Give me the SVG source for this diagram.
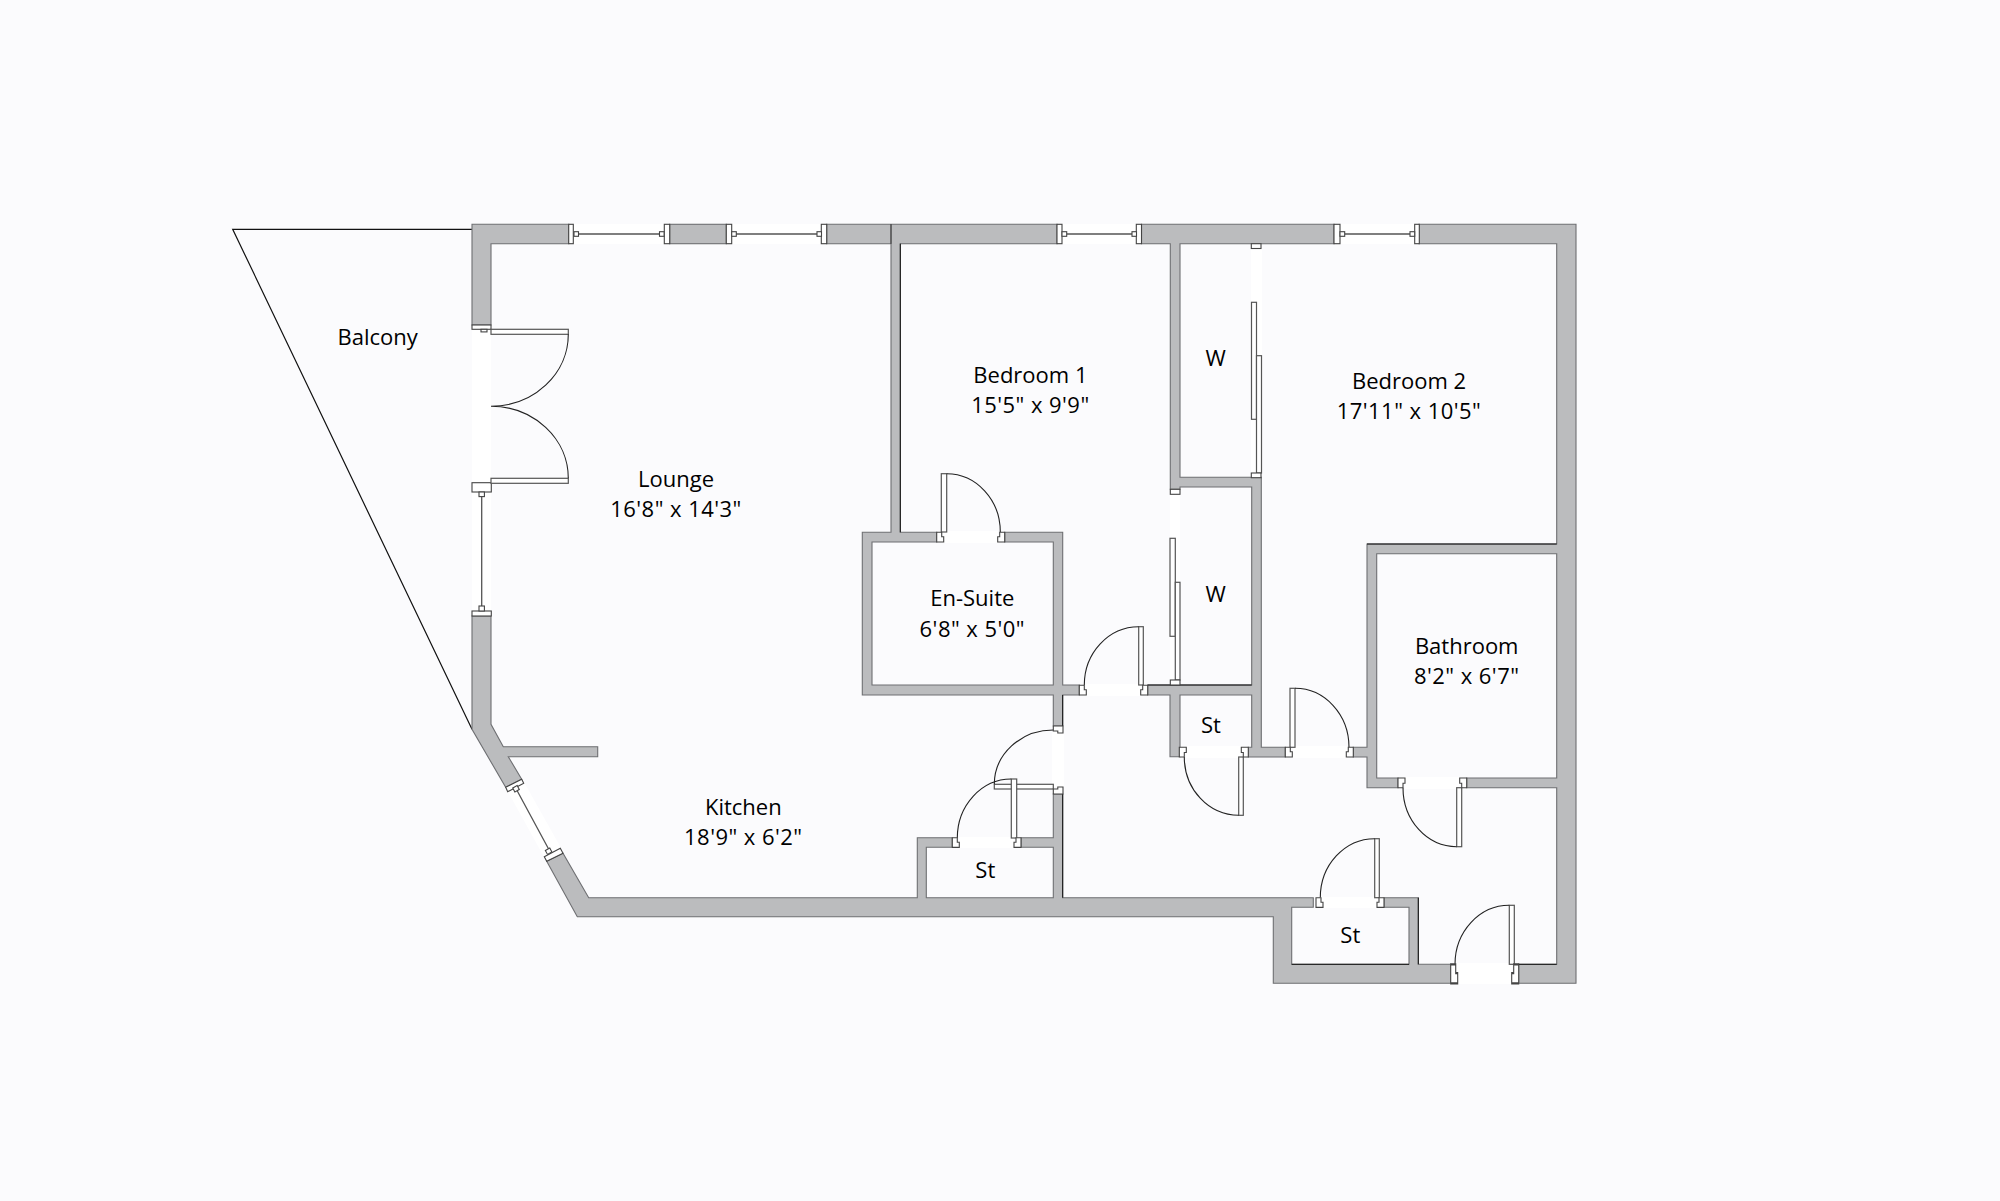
<svg xmlns="http://www.w3.org/2000/svg" xmlns:xlink="http://www.w3.org/1999/xlink" width="2000" height="1201" viewBox="0 0 2000 1201">
<style>
.gap{fill:#fff}
.wall{fill:#bbbcbe;stroke:#6e6f72;stroke-width:1.1;stroke-linejoin:miter}
.dk{fill:none;stroke:#111;stroke-width:1}
.panel{fill:#fff;stroke:#555;stroke-width:1.2}
.arc{fill:none;stroke:#222;stroke-width:1.1}
.cap{fill:#fff;stroke:#444;stroke-width:1.1}
.win{fill:none;stroke:#555;stroke-width:1.3}
text{font-family:"Open Sans","Noto Sans","Liberation Sans",sans-serif;font-size:22px;fill:#000;text-anchor:middle}
.dim{letter-spacing:.45px}
</style>
<defs>
<path id="jamb" class="cap" d="M0,0H5V4.5H7V9.7H0Z"/>
</defs>
<rect width="2000" height="1201" fill="#fbfbfd"/>
<path id="balcony" d="M472,229.3H232.7L472,729.3" fill="none" stroke="#111" stroke-width="1.2"/>
<g id="gaps">
<rect class="gap" x="573" y="224" width="91" height="20"/>
<rect class="gap" x="732" y="224" width="90" height="20"/>
<rect class="gap" x="1062" y="224" width="75" height="20"/>
<rect class="gap" x="1340" y="224" width="75" height="20"/>
<rect class="gap" x="472" y="330" width="19" height="281"/>
<rect class="gap" x="1251" y="248" width="11" height="225"/>
<rect class="gap" x="1170" y="494" width="10" height="186"/>
<rect class="gap" x="943" y="531" width="55" height="12"/>
<rect class="gap" x="1086" y="684" width="55" height="12"/>
<rect class="gap" x="1052" y="732" width="12" height="55"/>
<rect class="gap" x="959" y="837" width="55" height="11"/>
<rect class="gap" x="1186" y="746" width="55" height="12"/>
<rect class="gap" x="1293" y="746" width="54" height="12"/>
<rect class="gap" x="1405" y="777" width="55" height="12"/>
<rect class="gap" x="1322" y="897" width="55" height="11"/>
<rect class="gap" x="1457" y="963" width="55" height="21"/>
<polygon class="gap" points="507,790 524,782 561,848 544,857"/>
</g>
<g id="walls">
<path class="wall" d="M472,224.3H568.7V243.7H491V325H472Z"/>
<rect class="wall" x="669.7" y="224.3" width="56.6" height="19.4"/>
<path class="wall" d="M826.7,224.3H1057V243.7H900.3V532.3H936.7V542H872V685H1053.3V542H1004.7V532.3H1062.7V685H1079.3V695H1062.7V726H1053.3V695H862.3V532.3H891V243.7H826.7Z"/>
<path class="wall" d="M1141.5,224.3H1334V243.7H1180V477.3H1261.3V747.3H1285.3V757H1248.3V747.3H1251.7V695H1180V756.7H1170V695H1147.7V685H1251.7V487H1180V489.3H1170.3V243.7H1141.5Z"/>
<path class="wall" d="M1419,224.3H1576V983.3H1518.7V964.3H1556.7V787.7H1466.7V778H1556.7V553.7H1376.7V778H1398V787.7H1367V757H1353.3V747.3H1367V544H1556.7V243.7H1419Z"/>
<path class="wall" d="M546.7,861.3L577.3,916.7H1273.3V983.3H1450.7V964.3H1418.3V897.7H1384V907.3H1409V964.3H1291.7V907.3H1313.3V897.7H1062.7V794H1053.3V837.7H1021V847.3H1053.3V897.7H926.3V847.3H952.3V837.7H917.3V897.7H588.7L563,853.3Z"/>
<path class="wall" d="M472,616H491V724.3L503.3,746.7H597.7V756.7H508.3L521.7,779.3L505.7,787.3L472,729.3Z"/>
<path class="dk" d="M1367,544H1556.7M1291.7,964.3H1409M1418.3,897.7V964.3M1518.7,964.3H1556.7M900.3,243.7V532.3M891,224.3V243.7M1062.7,794V897.7M1062.7,695V726M1147.7,685H1251.7"/>
</g>
<g id="windows">
<path class="win" d="M578,234H659.5M736,234H817M1067,234H1132M1345,234H1410M481.7,496.5V606M517.3,791L548.6,849"/>
<g id="caps-win">
<rect class="cap" x="568.7" y="224.3" width="4.6" height="19.4"/><rect class="cap" x="574" y="231.7" width="4.5" height="4.6"/>
<rect class="cap" x="664.3" y="224.3" width="5.4" height="19.4"/><rect class="cap" x="659.5" y="231.7" width="4.6" height="4.6"/>
<rect class="cap" x="726.3" y="224.3" width="5.4" height="19.4"/><rect class="cap" x="731.7" y="231.7" width="4.6" height="4.6"/>
<rect class="cap" x="821.3" y="224.3" width="5.4" height="19.4"/><rect class="cap" x="817" y="231.7" width="4.5" height="4.6"/>
<rect class="cap" x="1057" y="224.3" width="5" height="19.4"/><rect class="cap" x="1062" y="231.7" width="4.7" height="4.6"/>
<rect class="cap" x="1136.3" y="224.3" width="5.2" height="19.4"/><rect class="cap" x="1132" y="231.7" width="4.5" height="4.6"/>
<rect class="cap" x="1334" y="224.3" width="6" height="19.4"/><rect class="cap" x="1340" y="231.7" width="4.7" height="4.6"/>
<rect class="cap" x="1414.7" y="224.3" width="4.6" height="19.4"/><rect class="cap" x="1410" y="231.7" width="4.7" height="4.6"/>
<rect class="cap" x="472" y="482.7" width="19.3" height="9.3"/><rect class="cap" x="479" y="492" width="5.4" height="4.6"/>
<rect class="cap" x="472" y="611" width="19.3" height="5"/><rect class="cap" x="479" y="606" width="5.4" height="5"/>
<polygon class="cap" points="505.7,787.3 521.7,779.3 523.7,783.3 507.7,791.7"/>
<polygon class="cap" points="544.3,856.7 560.3,848.3 563,853.3 546.7,861.3"/>
<rect class="cap" x="513.5" y="786.5" width="5" height="4.5" transform="rotate(-28 516 788.7)"/>
<rect class="cap" x="546" y="849" width="5" height="4.5" transform="rotate(-28 548.5 851)"/>
<rect class="cap" x="472" y="325" width="19" height="4.3"/><rect class="cap" x="481" y="329.3" width="6" height="2.6"/>
</g>
</g>
<g id="doors">
<g id="panels">
<rect class="panel" x="941.3" y="473.7" width="5.4" height="58.3"/>
<rect class="panel" x="1138.7" y="626.7" width="4.6" height="58.3"/>
<rect class="panel" x="994.3" y="784.3" width="59" height="4.7"/>
<rect class="panel" x="1011.3" y="779" width="5.4" height="59"/>
<rect class="panel" x="1238.7" y="757" width="4.6" height="58.3"/>
<rect class="panel" x="1290" y="688.3" width="5" height="59"/>
<rect class="panel" x="1456.7" y="787.7" width="5" height="59"/>
<rect class="panel" x="1374.7" y="838.7" width="4.6" height="59"/>
<rect class="panel" x="1509.3" y="905.3" width="5" height="59"/>
<rect class="panel" x="491" y="329.3" width="77.3" height="5"/>
<rect class="panel" x="491" y="478.3" width="77.3" height="5"/>
<rect class="panel" x="1251.5" y="302.3" width="5" height="117"/>
<rect class="panel" x="1256.5" y="355.7" width="5" height="117.3"/>
<rect class="panel" x="1170" y="538.3" width="5.3" height="98"/>
<rect class="panel" x="1175.3" y="582.3" width="4.7" height="97.7"/>
</g>
<path class="arc" d="M946.7,473.7A53.6,58.3 0 0 1 1000.3,532M1138.7,626.7A54.4,58.3 0 0 0 1084.3,685M1053.3,730A59,54.3 0 0 0 994.3,784.3M1011.3,779A54,59 0 0 0 957.3,838M1238.7,815.3A54.4,58.3 0 0 1 1184.3,757M1295,688.3A54,59 0 0 1 1349,747.3M1456.7,846.7A53.7,59 0 0 1 1403,787.7M1374.7,838.7A54.4,59 0 0 0 1320.3,897.7M1509.3,905.3A54.3,59 0 0 0 1455,964.3M568.3,334.3A77.3,72 0 0 1 491,406.3M491,406.3A77.3,72 0 0 1 568.3,478.3"/>
<g id="jambs">
<use xlink:href="#jamb" href="#jamb" transform="translate(936.7,532.3)"/>
<use xlink:href="#jamb" href="#jamb" transform="translate(1004.7,532.3) scale(-1,1)"/>
<use xlink:href="#jamb" href="#jamb" transform="translate(1079.3,685.3)"/>
<use xlink:href="#jamb" href="#jamb" transform="translate(1147.7,685.3) scale(-1,1)"/>
<use xlink:href="#jamb" href="#jamb" transform="translate(952.3,837.7)"/>
<use xlink:href="#jamb" href="#jamb" transform="translate(1021,837.7) scale(-1,1)"/>
<use xlink:href="#jamb" href="#jamb" transform="translate(1179.3,757) scale(1,-1)"/>
<use xlink:href="#jamb" href="#jamb" transform="translate(1248.3,757) scale(-1,-1)"/>
<use xlink:href="#jamb" href="#jamb" transform="translate(1285.3,747.3)"/>
<use xlink:href="#jamb" href="#jamb" transform="translate(1353.3,747.3) scale(-1,1)"/>
<use xlink:href="#jamb" href="#jamb" transform="translate(1398,787.7) scale(1,-1)"/>
<use xlink:href="#jamb" href="#jamb" transform="translate(1466.7,787.7) scale(-1,-1)"/>
<use xlink:href="#jamb" href="#jamb" transform="translate(1316,897.7)"/>
<use xlink:href="#jamb" href="#jamb" transform="translate(1384,897.7) scale(-1,1)"/>
<use xlink:href="#jamb" href="#jamb" transform="translate(1450.7,964.3) scale(1,1.96)"/>
<use xlink:href="#jamb" href="#jamb" transform="translate(1518.7,964.3) scale(-1,1.96)"/>
<use xlink:href="#jamb" href="#jamb" transform="matrix(0,1,1,0,1053.3,726)"/>
<use xlink:href="#jamb" href="#jamb" transform="matrix(0,-1,1,0,1053.3,794)"/>
<rect class="cap" x="1251.3" y="243.7" width="9.7" height="4.8"/>
<rect class="cap" x="1251.3" y="473" width="9.7" height="4.7"/>
<rect class="cap" x="1170.3" y="489.3" width="9.7" height="5"/>
<rect class="cap" x="1170.3" y="680" width="9.7" height="5"/>
</g>
</g>
<g id="labels">
<text x="377.7" y="345.3">Balcony</text>
<text x="676" y="487">Lounge</text>
<text class="dim" x="676" y="516.7">16'8" x 14'3"</text>
<text x="1030.4" y="382.7">Bedroom 1</text>
<text class="dim" x="1030.4" y="412.7">15'5" x 9'9"</text>
<text x="1409" y="389">Bedroom 2</text>
<text class="dim" x="1409" y="419">17'11" x 10'5"</text>
<text x="1215.7" y="365.7">W</text>
<text x="1215.7" y="601.7">W</text>
<text x="972.3" y="605.7">En-Suite</text>
<text class="dim" x="972.3" y="636.7">6'8" x 5'0"</text>
<text x="1466.7" y="654">Bathroom</text>
<text class="dim" x="1466.7" y="684">8'2" x 6'7"</text>
<text x="1211" y="732.7">St</text>
<text x="743.3" y="815">Kitchen</text>
<text class="dim" x="743.3" y="844.7">18'9" x 6'2"</text>
<text x="985.3" y="877.7">St</text>
<text x="1350.3" y="942.7">St</text>
</g>
</svg>
